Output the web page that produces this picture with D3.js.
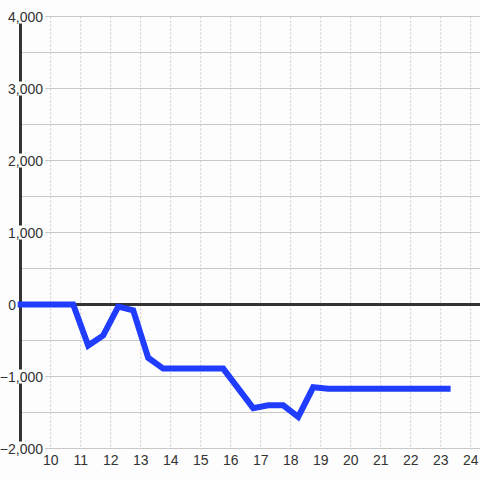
<!DOCTYPE html>
<html>
<head>
<meta charset="utf-8">
<script src="https://cdn.jsdelivr.net/npm/d3@7"></script>
<style>
  html, body { margin: 0; padding: 0; background: #fcfdfc; }
  svg { display: block; }
  svg text { font-family: "Liberation Sans", Arial, sans-serif; font-size: 14px; fill: #333; }
</style>
</head>
<body>
<div id="chart"></div>
<script>
// hours of the day and the running value at each point
const hours  = [8.9, 10.75, 11.25, 11.75, 12.25, 12.75, 13.25, 13.75, 15.75, 16.75, 17.25, 17.75, 18.25, 18.75, 19.25, 23.33];
const values = [0, 0, -570, -430, -30, -80, -740, -890, -890, -1440, -1400, -1400, -1560, -1150, -1170, -1170];
const xTicks = [10, 11, 12, 13, 14, 15, 16, 17, 18, 19, 20, 21, 22, 23, 24];
const yTicks = [-2000, -1000, 0, 1000, 2000, 3000, 4000];
const yGrid  = d3.range(-2000, 4001, 500);

const width = 480, height = 480;
const bg = '#fcfdfc';

const x = d3.scaleLinear().domain([10, 24]).range([50.7, 470.7]);
const y = d3.scaleLinear().domain([-2000, 4000]).range([448.5, 16.5]);

const svg = d3.select('#chart').append('svg')
    .attr('width', width)
    .attr('height', height);

svg.append('rect')
    .attr('width', width).attr('height', height)
    .attr('fill', bg);

// horizontal grid, runs from the axis; labels mask it
svg.append('g')
    .selectAll('line')
    .data(yGrid)
    .enter()
    .append('line')
    .attr('x1', 21).attr('x2', width)
    .attr('y1', d => y(d)).attr('y2', d => y(d))
    .attr('stroke', '#c8c8c8')
    .attr('stroke-width', 1);

// vertical dashed grid
svg.append('g')
    .selectAll('line')
    .data(xTicks)
    .enter()
    .append('line')
    .attr('x1', d => x(d)).attr('x2', d => x(d))
    .attr('y1', y(4000)).attr('y2', y(-2000))
    .attr('stroke', '#c8c8c8')
    .attr('stroke-width', 1)
    .attr('stroke-dasharray', '2,2');

// y axis line
svg.append('line')
    .attr('x1', 20.5).attr('x2', 20.5)
    .attr('y1', y(4000)).attr('y2', y(-2000))
    .attr('stroke', '#333')
    .attr('stroke-width', 3);

// zero line
svg.append('line')
    .attr('x1', 19).attr('x2', width)
    .attr('y1', y(0)).attr('y2', y(0))
    .attr('stroke', '#333')
    .attr('stroke-width', 3);

// y labels with background boxes (zero sits left of the axis)
const yLab = svg.append('g')
    .selectAll('g')
    .data(yTicks)
    .enter()
    .append('g');
yLab.append('text')
    .attr('x', d => d === 0 ? 16 : 43)
    .attr('y', d => y(d))
    .attr('dy', '0.36em')
    .attr('text-anchor', 'end')
    .text(d => d3.format(',')(d));
yLab.each(function(d) {
    if (d === 0) return;
    const g = d3.select(this);
    const b = g.select('text').node().getBBox();
    g.insert('rect', 'text')
        .attr('x', b.x).attr('y', b.y + 1)
        .attr('width', b.width + 2).attr('height', b.height - 2)
        .attr('fill', bg);
});

// x labels
svg.append('g')
    .selectAll('text')
    .data(xTicks)
    .enter()
    .append('text')
    .attr('x', d => x(d))
    .attr('y', 465)
    .attr('text-anchor', 'middle')
    .text(d => d);

// series line
const line = d3.line()
    .x((d, i) => x(hours[i]))
    .y(d => y(d));
svg.append('path')
    .attr('d', line(values))
    .attr('fill', 'none')
    .attr('stroke', '#1f3cff')
    .attr('stroke-width', 6)
    .attr('stroke-linejoin', 'miter');
</script>
</body>
</html>
